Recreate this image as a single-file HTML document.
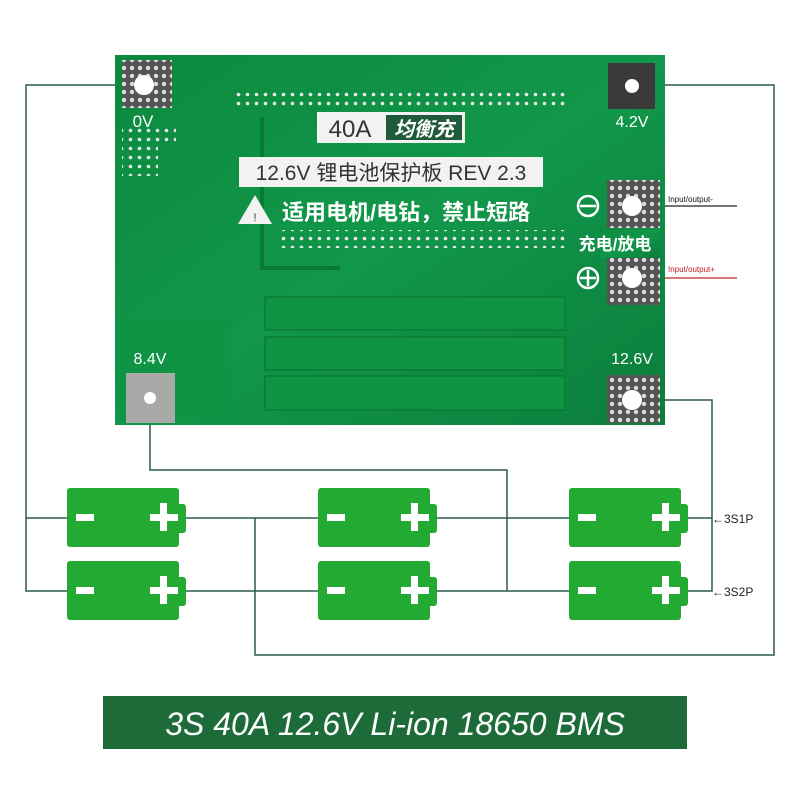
<!DOCTYPE html>
<html><head><meta charset="utf-8"><style>
html,body{margin:0;padding:0;background:#fff;width:800px;height:800px;overflow:hidden}
</style></head><body>
<svg width="800" height="800" viewBox="0 0 800 800" xmlns="http://www.w3.org/2000/svg" font-family="Liberation Sans, Noto Sans CJK SC, sans-serif">
<defs>
<pattern id="dots" width="8" height="8" patternUnits="userSpaceOnUse"><rect width="8" height="8" fill="#555"/><circle cx="4" cy="4" r="2.2" fill="#ddd"/></pattern>
<pattern id="row" width="9" height="9" patternUnits="userSpaceOnUse"><circle cx="4.5" cy="4.5" r="1.8" fill="#e8e8e8"/></pattern>
<linearGradient id="pcb" x1="0" y1="0" x2="1" y2="1"><stop offset="0" stop-color="#0c8a3e"/><stop offset="0.5" stop-color="#11974a"/><stop offset="1" stop-color="#0b7e3c"/></linearGradient>
</defs>
<g stroke="#2e5a4a" stroke-width="1.5" fill="none">
<polyline points="144,85 26,85 26,591 67,591"/>
<line x1="26" y1="518" x2="67" y2="518"/>
<polyline points="632,85 774,85 774,655 255,655 255,518"/>
<line x1="186" y1="518" x2="318" y2="518"/>
<line x1="186" y1="591" x2="318" y2="591"/>
<polyline points="150,398 150,470 507,470 507,591"/>
<line x1="437" y1="518" x2="569" y2="518"/>
<line x1="437" y1="591" x2="569" y2="591"/>
<polyline points="632,400 712,400 712,591 688,591"/>
<line x1="688" y1="518" x2="712" y2="518"/>
</g>
<line x1="632" y1="206" x2="737" y2="206" stroke="#222" stroke-width="1.2"/>
<line x1="632" y1="278" x2="737" y2="278" stroke="#c02020" stroke-width="1.2"/>
<text x="668" y="202" font-size="8" fill="#111">Input/output-</text>
<text x="668" y="272" font-size="8" fill="#c02020">Input/output+</text>
<rect x="115" y="55" width="550" height="370" fill="url(#pcb)"/>
<rect x="122" y="60" width="50" height="48" fill="url(#dots)"/>
<circle cx="144" cy="85" r="10" fill="#fff"/>
<text x="143" y="127" font-size="17" fill="#fff" text-anchor="middle">0V</text>
<rect x="122" y="128" width="54" height="18" fill="url(#row)"/>
<rect x="122" y="146" width="36" height="30" fill="url(#row)"/>
<rect x="608" y="63" width="47" height="46" fill="#3a3a3a"/>
<circle cx="632" cy="86" r="7" fill="#fff"/>
<text x="632" y="127" font-size="16" fill="#fff" text-anchor="middle">4.2V</text>
<rect x="232" y="88" width="333" height="18" fill="url(#row)"/>
<path d="M262,117 V268 H340" stroke="#0a7a33" stroke-width="4" fill="none"/>
<rect x="317" y="112" width="148" height="31" fill="#f2f2f2"/>
<rect x="386" y="115" width="76" height="25" fill="#1f5a3a"/>
<text x="350" y="137" font-size="24" fill="#333" text-anchor="middle">40A</text>
<text x="424" y="136" font-size="20" fill="#fff" text-anchor="middle" font-style="italic" font-weight="bold">均衡充</text>
<rect x="239" y="157" width="304" height="30" fill="#f2f2f2"/>
<text x="391" y="180" font-size="21" fill="#333" text-anchor="middle">12.6V 锂电池保护板 REV 2.3</text>
<polygon points="255,195 238,224 272,224" fill="#f2f2f2"/>
<text x="255" y="221" font-size="11" fill="#333" text-anchor="middle">!</text>
<text x="282" y="220" font-size="22" fill="#fff" font-weight="bold">适用电机/电钻，禁止短路</text>
<rect x="278" y="230" width="290" height="18" fill="url(#row)"/>
<rect x="607" y="180" width="53" height="125" fill="url(#dots)"/>
<rect x="600" y="228" width="60" height="30" fill="url(#pcb)"/>
<circle cx="632" cy="206" r="10" fill="#fff"/>
<circle cx="632" cy="278" r="10" fill="#fff"/>
<circle cx="588" cy="206" r="10" fill="none" stroke="#fff" stroke-width="2.5"/>
<line x1="580" y1="206" x2="596" y2="206" stroke="#fff" stroke-width="2.5"/>
<circle cx="588" cy="278" r="10" fill="none" stroke="#fff" stroke-width="2.5"/>
<line x1="580" y1="278" x2="596" y2="278" stroke="#fff" stroke-width="2.5"/>
<line x1="588" y1="270" x2="588" y2="286" stroke="#fff" stroke-width="2.5"/>
<text x="615" y="250" font-size="17" fill="#fff" font-weight="bold" text-anchor="middle">充电/放电</text>
<g fill="#0f9444" stroke="#0a7a33" stroke-width="1.5">
<rect x="265" y="297" width="300" height="33"/>
<rect x="265" y="337" width="300" height="33"/>
<rect x="265" y="376" width="300" height="34"/>
</g>
<rect x="121" y="316" width="110" height="105" fill="#0f9444"/>
<text x="150" y="364" font-size="16" fill="#fff" text-anchor="middle">8.4V</text>
<rect x="126" y="373" width="49" height="50" fill="#a8aaa8"/>
<circle cx="150" cy="398" r="6" fill="#fff"/>
<text x="632" y="364" font-size="16" fill="#fff" text-anchor="middle">12.6V</text>
<rect x="607" y="375" width="53" height="48" fill="url(#dots)"/>
<circle cx="632" cy="400" r="10" fill="#fff"/>
<g id="b">
<rect x="67" y="488" width="112" height="59" rx="3" fill="#22aa33"/>
<rect x="176" y="504" width="10" height="29" rx="3" fill="#22aa33"/>
<rect x="76" y="514" width="18" height="7" fill="#fff"/>
<rect x="150" y="514" width="28" height="7" fill="#fff"/>
<rect x="160" y="503" width="7" height="28" fill="#fff"/>
</g>
<use href="#b" x="251"/><use href="#b" x="502"/>
<use href="#b" y="73"/><use href="#b" x="251" y="73"/><use href="#b" x="502" y="73"/>
<text x="712" y="523" font-size="12" fill="#222">←3S1P</text>
<text x="712" y="596" font-size="12" fill="#222">←3S2P</text>
<rect x="103" y="696" width="584" height="53" fill="#1e6b3a"/>
<text x="395" y="735" font-size="32" fill="#fff" font-style="italic" text-anchor="middle">3S 40A 12.6V Li-ion 18650 BMS</text>
</svg>
</body></html>
